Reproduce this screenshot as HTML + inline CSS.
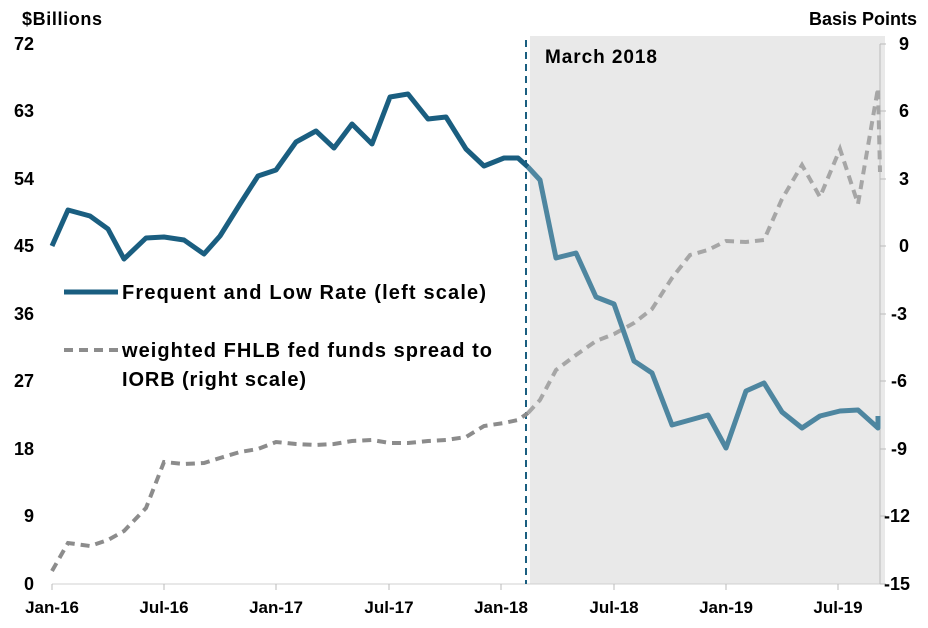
<!DOCTYPE html><html><head><style>body{margin:0;background:#fff}svg{display:block}</style></head><body>
<svg width="928" height="628" xmlns="http://www.w3.org/2000/svg" font-family="Liberation Sans, sans-serif" font-weight="bold">
<rect x="530" y="36" width="355" height="548" fill="#e9e9e9"/>
<line x1="52" y1="584" x2="880" y2="584" stroke="#d0d0d0" stroke-width="1"/>
<line x1="880" y1="44" x2="880" y2="584" stroke="#bbb" stroke-width="1"/>
<g stroke="#bbb"><line x1="880" y1="44" x2="886" y2="44"/><line x1="880" y1="111" x2="886" y2="111"/><line x1="880" y1="179" x2="886" y2="179"/><line x1="880" y1="246" x2="886" y2="246"/><line x1="880" y1="314" x2="886" y2="314"/><line x1="880" y1="381" x2="886" y2="381"/><line x1="880" y1="449" x2="886" y2="449"/><line x1="880" y1="516" x2="886" y2="516"/><line x1="880" y1="584" x2="886" y2="584"/>
<line x1="52" y1="584" x2="52" y2="590"/><line x1="164" y1="584" x2="164" y2="590"/><line x1="276" y1="584" x2="276" y2="590"/><line x1="389" y1="584" x2="389" y2="590"/><line x1="501" y1="584" x2="501" y2="590"/><line x1="614" y1="584" x2="614" y2="590"/><line x1="726" y1="584" x2="726" y2="590"/><line x1="838" y1="584" x2="838" y2="590"/></g>
<line x1="526" y1="40" x2="526" y2="584" stroke="#1a5e80" stroke-width="2" stroke-dasharray="7,5"/>
<text x="545" y="63" font-size="19" textLength="112">March 2018</text>
<g font-size="18" text-anchor="end"><text x="34" y="50">72</text><text x="34" y="117">63</text><text x="34" y="185">54</text><text x="34" y="252">45</text><text x="34" y="320">36</text><text x="34" y="387">27</text><text x="34" y="455">18</text><text x="34" y="522">9</text><text x="34" y="590">0</text></g>
<g font-size="18" text-anchor="start"><text x="899" y="50">9</text><text x="899" y="117">6</text><text x="899" y="185">3</text><text x="899" y="252">0</text><text x="891" y="320">-3</text><text x="891" y="387">-6</text><text x="891" y="455">-9</text><text x="884" y="522">-12</text><text x="884" y="590">-15</text></g>
<g font-size="17" text-anchor="middle"><text x="52" y="613">Jan-16</text><text x="164" y="613">Jul-16</text><text x="276" y="613">Jan-17</text><text x="389" y="613">Jul-17</text><text x="501" y="613">Jan-18</text><text x="614" y="613">Jul-18</text><text x="726" y="613">Jan-19</text><text x="838" y="613">Jul-19</text></g>
<text x="22" y="25" font-size="18" textLength="80">$Billions</text>
<text x="917" y="25" font-size="18" text-anchor="end">Basis Points</text>
<polyline fill="none" stroke="#8c8c8c" stroke-width="4" stroke-dasharray="9,6" points="52,571 68,543 90,546 108,540 124,531 146,508 164,462 184,464 204,463 220,458 240,452 258,449 276,442 296,444 316,445 334,444 352,441 372,440 390,443 408,443 428,441 446,440 466,437 484,426 504,423 518,420 528,413"/>
<polyline fill="none" stroke="#a6a6a6" stroke-width="4" stroke-dasharray="9,6" points="528,413 540,400 556,370 576,355 596,341 614,334 634,323 652,309 672,278 690,255 708,250 726,241 746,242 764,240 782,199 802,165 820,197 840,149 858,204 878,88 880,172"/>
<polyline fill="none" stroke="#1a5e80" stroke-width="5" stroke-linejoin="round" points="52,246 68,210 90,216 108,229 124,259 146,238 164,237 184,240 204,254 220,236 240,204 258,176 276,170 296,142 316,131 334,148 352,124 372,144 390,97 408,94 428,119 446,117 466,149 484,166 504,158 518,158 528,167"/>
<polyline fill="none" stroke="#4e86a0" stroke-width="5" stroke-linejoin="round" points="528,167 540,180 556,258 576,253 596,297 614,304 634,361 652,373 672,425 690,420 708,415 726,448 746,391 764,383 782,412 802,428 820,416 840,411 858,410 878,428 878,416"/>
<line x1="64" y1="292" x2="118" y2="292" stroke="#1a5e80" stroke-width="5"/>
<text x="122" y="299" font-size="20" textLength="364">Frequent and Low Rate (left scale)</text>
<line x1="64" y1="350" x2="118" y2="350" stroke="#8c8c8c" stroke-width="4" stroke-dasharray="9,6"/>
<text x="122" y="357" font-size="20" textLength="370">weighted FHLB fed funds spread to</text>
<text x="122" y="386" font-size="20" textLength="184">IORB (right scale)</text>
</svg></body></html>
